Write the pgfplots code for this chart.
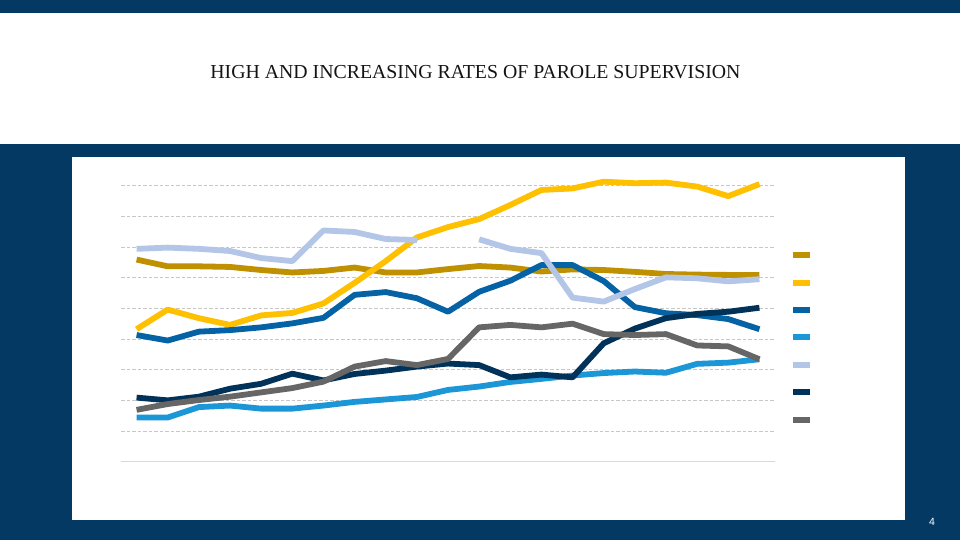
\documentclass[border=0pt]{standalone}
\usepackage{fontspec}
\setmainfont{Liberation Serif}
\newfontfamily\sansf{Liberation Sans}
\usepackage{pgfplots}
\usepackage{pgfplotstable}
\pgfplotsset{compat=1.18}
\definecolor{bgnavy}{RGB}{4,57,99}
\definecolor{cgold}{RGB}{191,144,0}
\definecolor{cyellow}{RGB}{255,192,0}
\definecolor{cmid}{RGB}{5,99,165}
\definecolor{ccyan}{RGB}{27,150,214}
\definecolor{cpale}{RGB}{180,198,231}
\definecolor{cnavy}{RGB}{1,50,90}
\definecolor{cgray}{RGB}{102,102,102}
\pgfplotstableread{
x gold yellow mid cyan pale navy gray
0 65.9 43.2 41.3 14.4 69.4 20.9 16.9
1 63.7 49.6 39.5 14.4 69.8 20.0 18.8
2 63.7 46.8 42.4 17.8 69.4 21.2 20.1
3 63.5 44.6 42.9 18.3 68.7 23.8 21.2
4 62.5 47.7 43.8 17.3 66.4 25.4 22.6
5 61.7 48.5 45.1 17.3 65.4 28.7 24.0
6 62.2 51.6 46.9 18.3 75.4 26.5 26.1
7 63.3 58.3 54.4 19.5 74.9 28.6 31.0
8 61.7 65.4 55.3 20.3 72.6 29.7 32.8
9 61.7 73.1 53.3 21.1 72.3 31.0 31.5
10 62.8 76.5 48.9 23.4 nan 32.0 33.5
11 63.8 79.1 55.4 24.5 72.5 31.5 43.8
12 63.3 83.7 59.0 26.0 69.4 27.5 44.6
13 62.0 88.6 64.1 27.0 68.0 28.4 43.8
14 62.7 89.1 64.1 28.1 53.5 27.5 45.0
15 62.5 91.3 58.9 28.9 52.2 38.6 41.6
16 61.9 90.8 50.4 29.4 56.3 43.4 41.3
17 61.2 91.0 48.4 29.0 60.1 46.8 41.6
18 61.0 89.7 47.8 31.9 59.8 48.2 37.9
19 60.9 86.6 46.5 32.3 58.8 48.9 37.6
20 60.9 90.5 43.2 33.4 59.5 50.2 33.4
}\data
\begin{document}
\begin{tikzpicture}[x=1pt,y=1pt]
\useasboundingbox (0,0) rectangle (960,540);
\fill[bgnavy] (0,0) rectangle (960,540);
\fill[white] (0,396) rectangle (960,527);
\fill[white] (72,20) rectangle (905,383);
\node[font=\fontsize{19.8}{22}\selectfont, text=black!92] at (475.5,468.3) {HIGH AND INCREASING RATES OF PAROLE SUPERVISION};
\node[font=\sansf\fontsize{10.5}{12}\selectfont, text=white] at (932,18) {4};
\begin{axis}[
  at={(121pt,78.3pt)}, anchor=south west,
  scale only axis, width=654pt, height=306.7pt,
  xmin=-0.5, xmax=20.5, ymin=0, ymax=100,
  clip=false,
  axis line style={draw=none},
  tick style={draw=none},
  xtick=\empty,
  ytick={10,20,...,90}, yticklabels={},
  ymajorgrids,
  major grid style={draw=black!22, line width=1pt, dash pattern=on 3.5pt off 2pt},
  extra y ticks={0}, extra y tick labels={},
  extra y tick style={ymajorgrids=true, major grid style={draw=black!15, solid, line width=1pt}},
  unbounded coords=jump,
  every axis plot/.append style={line width=5.8pt, line join=round, no marks},
  legend image code/.code={\draw[#1, line width=6pt, line cap=butt] (0pt,0pt) -- (17pt,0pt);},
  legend style={at={(1.0229,0.684)}, anchor=north west, draw=none, fill=none,
    inner sep=0pt, row sep=21.4pt, nodes={inner sep=0pt}},
  legend cell align=left,
]
\addplot[cgold] table[x=x,y=gold] {\data}; \addlegendentry{}
\addplot[cyellow] table[x=x,y=yellow] {\data}; \addlegendentry{}
\addplot[cmid] table[x=x,y=mid] {\data}; \addlegendentry{}
\addplot[ccyan] table[x=x,y=cyan] {\data}; \addlegendentry{}
\addplot[cpale] table[x=x,y=pale] {\data}; \addlegendentry{}
\addplot[cnavy] table[x=x,y=navy] {\data}; \addlegendentry{}
\addplot[cgray] table[x=x,y=gray] {\data}; \addlegendentry{}
\end{axis}
\end{tikzpicture}
\end{document}
